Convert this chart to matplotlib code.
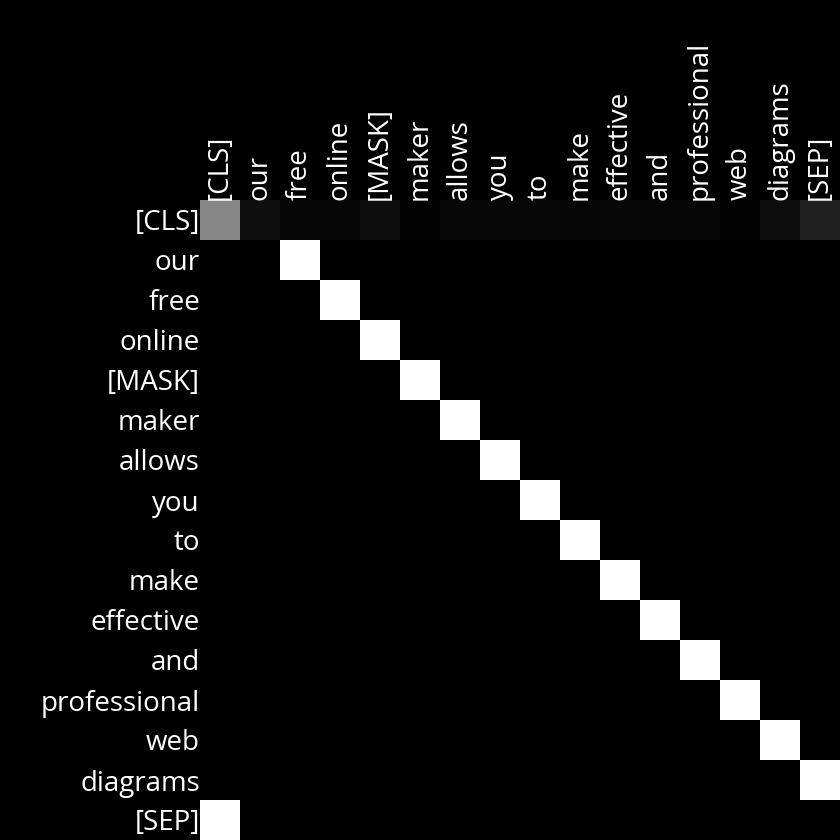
import numpy as np
import matplotlib
matplotlib.use("Agg")
import matplotlib.pyplot as plt

tokens = ["[CLS]", "our", "free", "online", "[MASK]", "maker", "allows", "you",
          "to", "make", "effective", "and", "professional", "web", "diagrams", "[SEP]"]

# attention from [CLS] to every token (first row)
cls_row = [0.53, 0.06, 0.02, 0.02, 0.05, 0.01, 0.03, 0.03,
           0.03, 0.02, 0.03, 0.02, 0.02, 0.01, 0.05, 0.13]
# for every other row, the column that gets all the weight
peak_cols = [2, 3, 4, 5, 6, 7, 8, 9, 10, 11, 12, 13, 14, 15, 0]

n = len(tokens)
att = np.zeros((n, n))
att[0] = cls_row
for r, c in enumerate(peak_cols, start=1):
    att[r, c] = 1.0

plt.rcParams['font.family'] = ['Open Sans', 'DejaVu Sans']

fig = plt.figure(figsize=(8.4, 8.4), dpi=100, facecolor='black')
ax = fig.add_axes([200 / 840, 0, 640 / 840, 640 / 840])
ax.set_facecolor('black')
ax.imshow(att, cmap='gray', vmin=0, vmax=1, aspect='auto', interpolation='nearest')

ax.set_xticks(range(n))
ax.set_yticks(range(n))
ax.set_xticklabels(tokens, rotation=90, color='white', fontsize=20)
ax.set_yticklabels(tokens, color='white', fontsize=20)
ax.xaxis.tick_top()
ax.tick_params(length=0, pad=0)
for s in ax.spines.values():
    s.set_visible(False)

fig.savefig("out.png", dpi=100, facecolor='black')
